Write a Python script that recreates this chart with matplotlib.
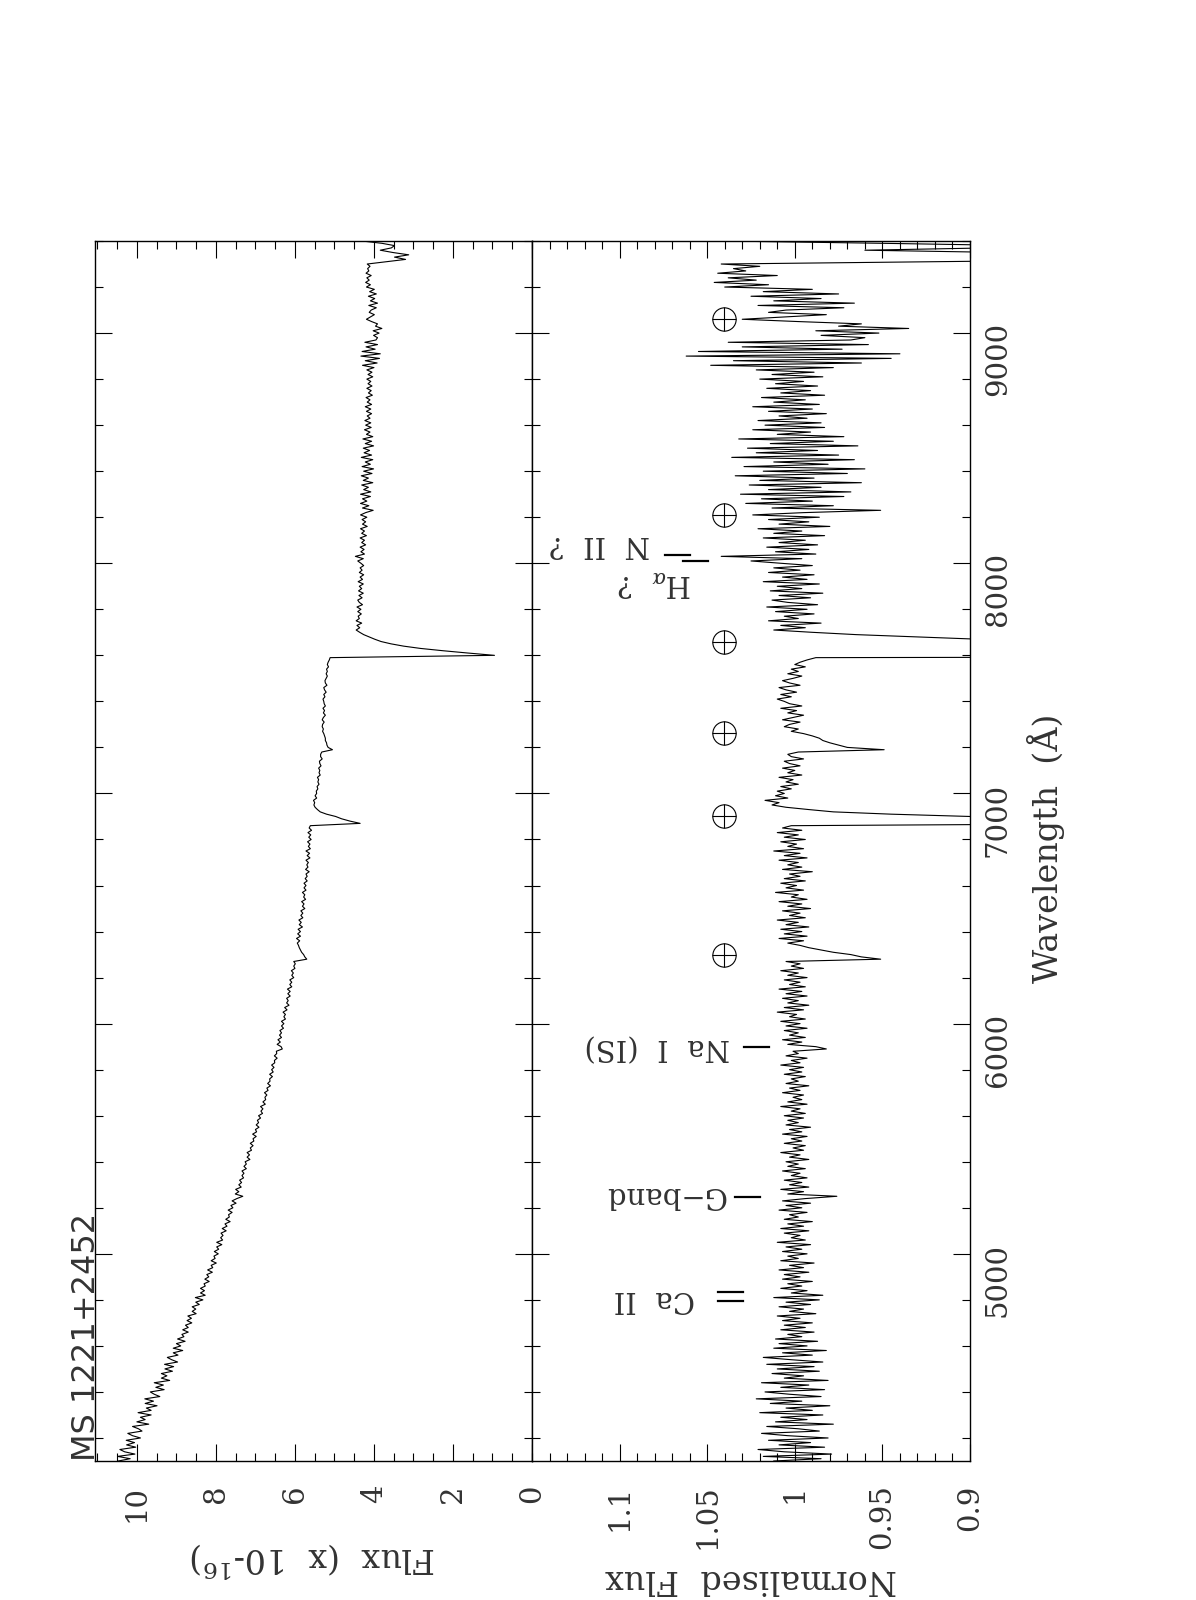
import numpy as np
import matplotlib
matplotlib.use('Agg')
import matplotlib.pyplot as plt
from matplotlib.ticker import MultipleLocator

lam_inicio = 4100
lam_paso = 10

# flujo (x 1e-16)
flujo = [
    10.47, 10.17, 10.49, 10.05, 10.31, 10.43, 10.03, 10.26, 10.06, 10.27,
    9.91, 10.11, 10.23, 9.87, 9.96, 10.11, 9.70, 10.00, 9.79, 9.91,
    9.64, 9.97, 9.64, 9.76, 9.49, 9.79, 9.58, 9.80, 9.42, 9.56,
    9.66, 9.31, 9.52, 9.33, 9.56, 9.17, 9.38, 9.24, 9.38, 9.10,
    9.29, 9.07, 9.30, 8.97, 9.12, 9.23, 8.96, 9.08, 8.84, 9.08,
    8.89, 9.00, 8.78, 8.97, 8.81, 8.86, 8.70, 8.84, 8.70, 8.77,
    8.61, 8.73, 8.62, 8.71, 8.50, 8.60, 8.51, 8.60, 8.42, 8.51,
    8.33, 8.52, 8.27, 8.39, 8.29, 8.39, 8.27, 8.30, 8.17, 8.28,
    8.18, 8.23, 8.09, 8.21, 8.08, 8.12, 7.99, 8.12, 8.02, 8.05,
    7.94, 8.04, 7.93, 7.98, 7.85, 7.98, 7.83, 7.88, 7.82, 7.87,
    7.74, 7.84, 7.72, 7.77, 7.64, 7.75, 7.66, 7.68, 7.59, 7.69,
    7.57, 7.62, 7.49, 7.59, 7.47, 7.32, 7.51, 7.42, 7.50, 7.36,
    7.42, 7.35, 7.40, 7.30, 7.34, 7.29, 7.34, 7.23, 7.29, 7.23,
    7.26, 7.14, 7.21, 7.15, 7.21, 7.10, 7.13, 7.06, 7.13, 7.04,
    7.06, 6.98, 7.07, 6.97, 7.00, 6.91, 6.98, 6.92, 6.95, 6.87,
    6.92, 6.82, 6.86, 6.81, 6.87, 6.75, 6.81, 6.74, 6.76, 6.71,
    6.77, 6.68, 6.71, 6.62, 6.69, 6.63, 6.64, 6.57, 6.64, 6.55,
    6.59, 6.53, 6.59, 6.51, 6.52, 6.45, 6.52, 6.46, 6.47, 6.32,
    6.35, 6.45, 6.37, 6.43, 6.34, 6.39, 6.34, 6.38, 6.29, 6.34,
    6.28, 6.34, 6.24, 6.28, 6.24, 6.30, 6.20, 6.26, 6.15, 6.21,
    6.17, 6.21, 6.12, 6.18, 6.12, 6.19, 6.08, 6.13, 6.08, 6.13,
    6.03, 6.08, 6.04, 6.09, 6.00, 6.03, 5.99, 6.03, 5.70, 5.75,
    5.78, 5.83, 5.86, 5.89, 5.91, 5.94, 5.88, 5.96, 5.86, 5.93,
    5.86, 5.92, 5.81, 5.89, 5.84, 5.90, 5.80, 5.85, 5.80, 5.85,
    5.75, 5.81, 5.77, 5.83, 5.73, 5.78, 5.75, 5.81, 5.72, 5.77,
    5.72, 5.77, 5.69, 5.74, 5.69, 5.72, 5.64, 5.73, 5.67, 5.70,
    5.66, 5.72, 5.62, 5.69, 5.63, 5.72, 5.61, 5.66, 5.62, 5.68,
    5.59, 5.65, 5.60, 5.67, 5.58, 5.64, 5.61, 4.35, 4.61, 4.82,
    4.97, 5.20, 5.36, 5.43, 5.49, 5.52, 5.50, 5.53, 5.45, 5.49,
    5.45, 5.46, 5.42, 5.44, 5.39, 5.42, 5.40, 5.43, 5.36, 5.39,
    5.37, 5.40, 5.34, 5.37, 5.38, 5.31, 5.35, 5.35, 5.32, 5.05,
    5.16, 5.19, 5.20, 5.23, 5.23, 5.25, 5.27, 5.30, 5.28, 5.31,
    5.30, 5.26, 5.31, 5.28, 5.23, 5.28, 5.25, 5.29, 5.23, 5.26,
    5.27, 5.29, 5.24, 5.27, 5.21, 5.25, 5.27, 5.19, 5.23, 5.24,
    5.21, 5.18, 5.21, 5.18, 5.20, 5.15, 5.18, 5.16, 5.13, 5.11,
    0.95, 1.62, 2.25, 2.82, 3.25, 3.57, 3.82, 3.98, 4.12, 4.26,
    4.36, 4.45, 4.36, 4.43, 4.31, 4.45, 4.37, 4.40, 4.32, 4.41,
    4.33, 4.43, 4.29, 4.37, 4.41, 4.30, 4.38, 4.27, 4.39, 4.31,
    4.37, 4.27, 4.40, 4.29, 4.35, 4.26, 4.37, 4.30, 4.35, 4.26,
    4.33, 4.41, 4.27, 4.47, 4.24, 4.33, 4.25, 4.35, 4.21, 4.31,
    4.24, 4.35, 4.19, 4.31, 4.24, 4.34, 4.17, 4.29, 4.21, 4.30,
    4.18, 4.34, 4.21, 4.02, 4.29, 4.13, 4.34, 4.18, 4.29, 4.09,
    4.34, 4.08, 4.26, 4.14, 4.31, 4.03, 4.27, 4.14, 4.32, 4.05,
    4.26, 4.01, 4.30, 4.09, 4.22, 4.03, 4.32, 4.06, 4.25, 4.11,
    4.27, 4.01, 4.22, 4.06, 4.28, 4.03, 4.19, 4.10, 4.24, 4.07,
    4.21, 4.08, 4.23, 4.10, 4.17, 4.06, 4.19, 4.08, 4.22, 4.06,
    4.17, 4.10, 4.20, 4.04, 4.14, 4.07, 4.18, 4.05, 4.15, 4.08,
    4.18, 4.03, 4.15, 4.05, 4.18, 4.00, 4.29, 3.92, 4.22, 3.86,
    4.33, 3.84, 4.30, 3.97, 4.20, 3.91, 4.23, 3.95, 3.91, 4.01,
    3.87, 4.02, 3.80, 3.96, 3.91, 4.06, 4.19, 4.09, 3.99, 4.12,
    4.07, 3.94, 4.13, 3.91, 4.09, 3.98, 4.14, 3.94, 4.11, 3.99,
    4.19, 4.09, 4.21, 4.12, 4.18, 4.07, 4.20, 4.13, 4.16, 4.10,
    4.17, 3.68, 3.20, 3.48, 3.12, 3.52, 3.84, 3.56, 3.48, 3.80, 4.30,
]

# flujo normalizado al continuo
flujo_norm = [
    1.012, 0.985, 1.018, 0.979, 1.006, 1.021, 0.983, 1.009, 0.991, 1.015,
    0.981, 1.004, 1.019, 0.986, 0.998, 1.016, 0.978, 1.011, 0.993, 1.008,
    0.984, 1.020, 0.990, 1.005, 0.980, 1.014, 0.996, 1.022, 0.985, 1.003,
    1.017, 0.983, 1.008, 0.992, 1.019, 0.981, 1.006, 0.995, 1.013, 0.986,
    1.010, 0.989, 1.016, 0.984, 1.002, 1.018, 0.990, 1.007, 0.982, 1.012,
    0.993, 1.009, 0.987, 1.011, 0.996, 1.004, 0.989, 1.008, 0.994, 1.006,
    0.990, 1.007, 0.997, 1.010, 0.988, 1.003, 0.995, 1.009, 0.991, 1.005,
    0.986, 1.012, 0.984, 1.002, 0.993, 1.008, 0.996, 1.004, 0.990, 1.007,
    0.997, 1.006, 0.992, 1.009, 0.995, 1.003, 0.989, 1.008, 0.998, 1.004,
    0.993, 1.007, 0.996, 1.005, 0.991, 1.010, 0.994, 1.002, 0.997, 1.006,
    0.992, 1.008, 0.995, 1.004, 0.990, 1.006, 0.998, 1.003, 0.993, 1.009,
    0.996, 1.005, 0.991, 1.007, 0.994, 0.976, 1.004, 0.995, 1.008, 0.992,
    1.003, 0.996, 1.006, 0.993, 1.002, 0.997, 1.007, 0.994, 1.004, 0.998,
    1.005, 0.992, 1.003, 0.997, 1.008, 0.995, 1.001, 0.994, 1.006, 0.996,
    1.002, 0.993, 1.007, 0.996, 1.003, 0.991, 1.005, 0.998, 1.004, 0.995,
    1.006, 0.994, 1.002, 0.997, 1.008, 0.993, 1.004, 0.996, 1.001, 0.995,
    1.007, 0.997, 1.003, 0.992, 1.005, 0.998, 1.002, 0.994, 1.006, 0.996,
    1.003, 0.995, 1.008, 0.997, 1.002, 0.993, 1.005, 0.998, 1.001, 0.982,
    0.988, 1.004, 0.996, 1.007, 0.994, 1.003, 0.998, 1.006, 0.993, 1.005,
    0.997, 1.008, 0.994, 1.003, 0.999, 1.010, 0.995, 1.006, 0.992, 1.004,
    0.998, 1.007, 0.993, 1.005, 0.996, 1.009, 0.994, 1.003, 0.997, 1.006,
    0.993, 1.004, 0.998, 1.008, 0.995, 1.002, 0.997, 1.005, 0.951, 0.962,
    0.968, 0.978, 0.985, 0.992, 0.997, 1.004, 0.995, 1.009, 0.993, 1.006,
    0.996, 1.008, 0.992, 1.005, 0.998, 1.010, 0.994, 1.003, 0.997, 1.007,
    0.991, 1.004, 0.996, 1.009, 0.993, 1.002, 0.998, 1.011, 0.995, 1.005,
    0.999, 1.008, 0.994, 1.006, 0.997, 1.003, 0.990, 1.007, 0.996, 1.004,
    0.998, 1.009, 0.993, 1.006, 0.997, 1.012, 0.995, 1.004, 0.999, 1.008,
    0.994, 1.006, 0.998, 1.010, 0.996, 1.007, 1.002, 0.780, 0.830, 0.870,
    0.900, 0.945, 0.978, 0.992, 1.005, 1.013, 1.009, 1.017, 1.004, 1.011,
    1.006, 1.010, 1.002, 1.008, 0.998, 1.005, 1.001, 1.009, 0.996, 1.004,
    1.000, 1.007, 0.997, 1.003, 1.006, 0.995, 1.002, 1.004, 0.998, 0.949,
    0.970, 0.975, 0.980, 0.984, 0.986, 0.990, 0.995, 1.002, 0.998, 1.006,
    1.003, 0.997, 1.007, 1.001, 0.995, 1.004, 0.999, 1.008, 0.996, 1.003,
    1.006, 1.010, 1.002, 1.008, 0.999, 1.005, 1.009, 0.997, 1.003, 1.007,
    1.001, 0.996, 1.004, 0.998, 1.002, 0.994, 1.000, 0.997, 0.993, 0.988,
    0.230, 0.360, 0.480, 0.600, 0.700, 0.780, 0.850, 0.895, 0.930, 0.965,
    0.990, 1.012, 0.994, 1.008, 0.985, 1.015, 0.998, 1.006, 0.989, 1.011,
    0.993, 1.016, 0.987, 1.004, 1.013, 0.991, 1.009, 0.984, 1.014, 0.996,
    1.010, 0.986, 1.018, 0.993, 1.007, 0.989, 1.015, 0.997, 1.012, 0.990,
    1.008, 1.025, 0.996, 1.042, 0.988, 1.011, 0.992, 1.016, 0.987, 1.009,
    0.994, 1.018, 0.983, 1.012, 0.996, 1.021, 0.980, 1.009, 0.992, 1.015,
    0.986, 1.024, 0.995, 0.951, 1.013, 0.978, 1.028, 0.990, 1.019, 0.972,
    1.031, 0.968, 1.015, 0.985, 1.026, 0.962, 1.020, 0.989, 1.034, 0.970,
    1.018, 0.960, 1.029, 0.981, 1.012, 0.966, 1.036, 0.975, 1.022, 0.987,
    1.027, 0.964, 1.014, 0.978, 1.032, 0.972, 1.010, 0.991, 1.024, 0.983,
    1.017, 0.985, 1.021, 0.993, 1.009, 0.982, 1.015, 0.990, 1.024, 0.986,
    1.012, 0.994, 1.019, 0.983, 1.008, 0.991, 1.016, 0.987, 1.011, 0.995,
    1.020, 0.984, 1.013, 0.989, 1.022, 0.978, 1.048, 0.962, 1.035, 0.945,
    1.062, 0.940, 1.055, 0.973, 1.030, 0.958, 1.038, 0.968, 0.960, 0.985,
    0.952, 0.988, 0.935, 0.975, 0.962, 0.998, 1.030, 1.006, 0.982, 1.015,
    1.005, 0.972, 1.021, 0.966, 1.012, 0.985, 1.025, 0.975, 1.018, 0.990,
    1.040, 1.015, 1.046, 1.022, 1.038, 1.010, 1.044, 1.028, 1.035, 1.020,
    1.042, 0.920, 0.800, 0.870, 0.780, 0.880, 0.960, 0.890, 0.870, 0.950, 1.040,
]

# ticks
flujo_ticks = [0, 2, 4, 6, 8, 10]
norm_ticks = [0.9, 0.95, 1.0, 1.05, 1.1]
norm_etiquetas = ['0.9', '0.95', '1', '1.05', '1.1']
lam_ticks = [5000, 6000, 7000, 8000, 9000]

# marcas de lineas identificadas (longitud de onda, extremos en flujo normalizado)
marca_lam = [4796, 4835, 5248, 5900, 8009, 8035]
marca_x0 = [1.0294, 1.0294, 1.0197, 1.0146, 1.0494, 1.0596]
marca_x1 = [1.0437, 1.0437, 1.0340, 1.0288, 1.0636, 1.0739]

# etiquetas de las lineas
etiquetas = ['Ca  II', 'G\u2212band', 'Na  I  (IS)', r'H$_\alpha$  ?', 'N  II  ?']
etiqueta_lam = [4839, 5291, 5935, 7948, 8120]
etiqueta_x = [1.0568, 1.0397, 1.0368, 1.0585, 1.0824]

# bandas teluricas
teluricas_lam = [6300, 6904, 7261, 7657, 8208, 9061]
teluricas_x = 1.0403

lam = lam_inicio + lam_paso * np.arange(len(flujo))

plt.rcParams['font.family'] = 'DejaVu Serif'
plt.rcParams['mathtext.fontset'] = 'dejavuserif'
gris = '#333333'

W, H = 1196, 1600
fig = plt.figure(figsize=(W / 100, H / 100), dpi=100)
ax1 = fig.add_axes([95 / W, 1 - 1461 / H, 437 / W, 1220 / H])
ax2 = fig.add_axes([532 / W, 1 - 1461 / H, 438 / W, 1220 / H])

ax1.plot(flujo, lam, color='k', lw=0.8)
ax2.plot(flujo_norm, lam, color='k', lw=0.8)

ax1.set_xlim(11.06, 0)
ax2.set_xlim(1.15, 0.9)

for ax in (ax1, ax2):
    ax.set_ylim(4100, 9400)
    ax.yaxis.set_major_locator(MultipleLocator(1000))
    ax.yaxis.set_minor_locator(MultipleLocator(200))
    ax.tick_params(which='both', direction='in', top=True, bottom=True,
                   left=True, right=True, width=0.8, labelleft=False,
                   labelright=False, labelcolor=gris)
    ax.tick_params(which='major', length=12)
    ax.tick_params(which='minor', length=6)
    for s in ax.spines.values():
        s.set_linewidth(1.0)

ax1.set_xticks(flujo_ticks)
ax1.xaxis.set_minor_locator(MultipleLocator(0.5))
ax2.set_xticks(norm_ticks, norm_etiquetas)
ax2.xaxis.set_minor_locator(MultipleLocator(0.01))
ax2.set_yticks(lam_ticks)
for ax in (ax1, ax2):
    ax.tick_params(axis='x', labelrotation=90, pad=17, labelsize=21)
ax2.tick_params(axis='y', labelright=True, labelrotation=90, pad=10, labelsize=21)

# marcas y etiquetas de las lineas
for l, a, b in zip(marca_lam, marca_x0, marca_x1):
    ax2.plot([a, b], [l, l], color='k', lw=1.6)
for t, l, x in zip(etiquetas, etiqueta_lam, etiqueta_x):
    ax2.text(x, l, t, rotation=180, rotation_mode='anchor', ha='left',
             va='baseline', fontsize=21, color=gris)

# simbolo de la Tierra para las bandas teluricas
tx = [teluricas_x] * len(teluricas_lam)
ax2.plot(tx, teluricas_lam, 'o', mfc='none', mec='k', ms=16.8, mew=0.8)
ax2.plot(tx, teluricas_lam, '+', color='k', ms=16.8, mew=0.8)

# textos de ejes
fig.text(313 / W, 1 - 1560 / H, r'Flux  (x  10-$^{16}$)', rotation=180,
         ha='center', va='center', fontsize=24, color=gris)
fig.text(751 / W, 1 - 1579 / H, 'Normalised  Flux', rotation=180,
         ha='center', va='center', fontsize=24, color=gris)
fig.text(1046 / W, 1 - 848 / H, 'Wavelength  (\u00c5)', rotation=90,
         ha='center', va='center', fontsize=24, color=gris)
fig.text(102 / W, 1 - 1461 / H, 'MS 1221+2452', rotation=90, ha='right',
         va='bottom', fontsize=23, family='DejaVu Sans', color=gris)

fig.savefig('out.png', dpi=100)
